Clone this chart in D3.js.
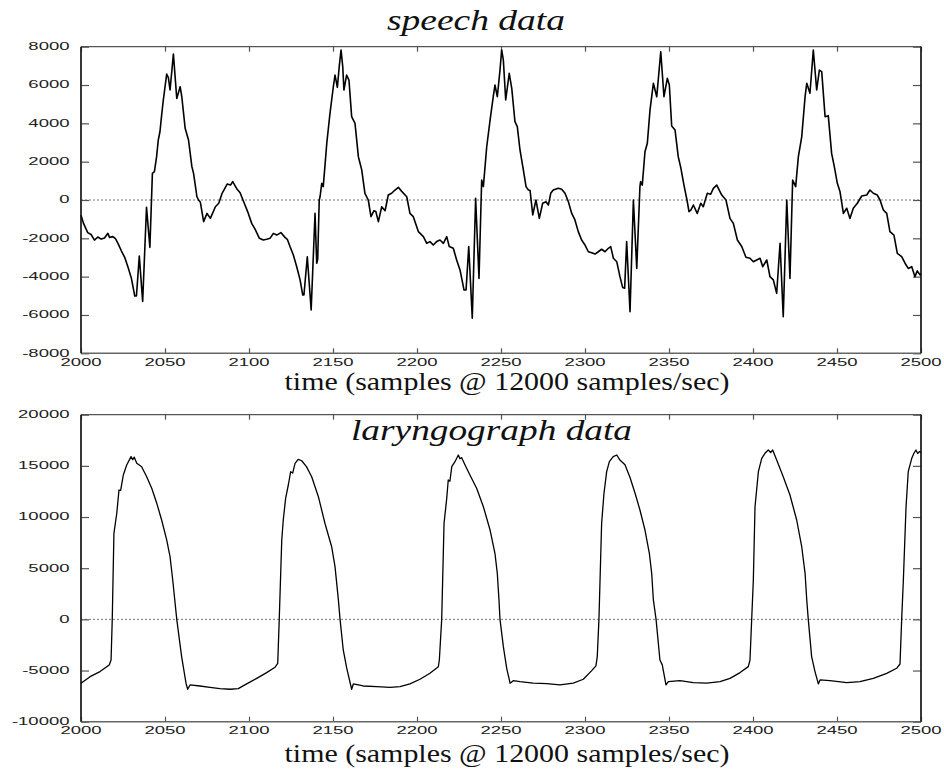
<!DOCTYPE html>
<html>
<head>
<meta charset="utf-8">
<script src="https://d3js.org/d3.v7.min.js"></script>
<style>
    html, body {
        margin: 0;
        padding: 0;
        background: #fff;
    }

    svg {
        display: block;
    }

    .tick-label {
        font: 10px "Liberation Sans", Arial, sans-serif;
        fill: #222;
    }

    .title {
        font-family: "Liberation Serif", "Times New Roman", serif;
        font-style: italic;
        font-size: 30px;
        fill: #111;
    }

    .xlabel {
        font-family: "Liberation Serif", "Times New Roman", serif;
        font-size: 25px;
        fill: #111;
    }

    .trace {
        fill: none;
        stroke: #000;
        stroke-linejoin: round;
    }
</style>
</head>
<body>
<svg width="944" height="769"></svg>
<script>
    // values: [sample, amplitude]
    var speech = [
        [2000, -800], [2001.5, -1220], [2004, -1700], [2006, -1800], [2008, -2090], [2010, -1930], [2012, -2040],
        [2014, -1980], [2016, -1740], [2017, -1950], [2019, -1910], [2020.5, -2020], [2022, -2260], [2024, -2650],
        [2026, -2990], [2028, -3510], [2030, -4090], [2032, -5010], [2033, -5010], [2034.7, -2920], [2036.7, -5300],
        [2039, -380], [2041, -2470], [2042.5, 1390], [2043.7, 1480], [2045, 2260], [2046, 3130], [2047, 3560],
        [2048, 4430], [2049, 5220], [2051, 6570], [2052, 6390], [2053, 5740], [2055, 7620], [2057, 5300],
        [2059, 5910], [2060, 5390], [2062, 3740], [2064, 3130], [2066, 1740], [2067, 1390], [2069, 170], [2070, 0],
        [2071, -100], [2073, -1130], [2075, -700], [2077, -960], [2080, -350], [2082, -170], [2084, 350],
        [2087, 830], [2089, 780], [2090.3, 960], [2092.7, 590], [2094.7, 380], [2097.6, -260], [2099.6, -700],
        [2101.6, -1220], [2103.6, -1520], [2106.2, -2000], [2108.5, -2090], [2110.5, -2050], [2112.5, -2000],
        [2114.5, -1740], [2116.5, -1830], [2119, -1700], [2121.4, -1950], [2122.8, -2050], [2124.4, -2430],
        [2126.4, -2870], [2128.4, -3480], [2130.4, -4170], [2132, -4960], [2132.7, -4960], [2134.7, -2960],
        [2137, -5740], [2139.3, -700], [2140.3, -3300], [2140.9, -3100], [2141.8, 0], [2142.3, 170], [2143.3, 870],
        [2144.2, 700], [2146.3, 2960], [2148.2, 4520], [2150.2, 5910], [2151.2, 6520], [2152.6, 5880],
        [2153.7, 6960], [2154.8, 7830], [2155.8, 6960], [2156.5, 5740], [2158.1, 6520], [2159.5, 6260],
        [2161.1, 4350], [2163.1, 4000], [2165.1, 2260], [2167.1, 1570], [2169, 350], [2171, 0], [2172.6, -870],
        [2174.4, -560], [2175.5, -600], [2177, -1130], [2179, -350], [2181, -560], [2182.9, 260], [2184.9, 350],
        [2186.9, 520], [2188.9, 660], [2190.9, 450], [2193.9, 170], [2195.8, -700], [2197.8, -870],
        [2200.8, -1650], [2203.8, -1910], [2205.8, -2260], [2207.7, -2170], [2209.7, -2350], [2211.7, -2170],
        [2213.7, -2090], [2215.7, -2260], [2217.7, -1910], [2219.2, -2430], [2221.6, -2520], [2223.6, -3130],
        [2225.6, -3650], [2228, -4700], [2229.2, -4700], [2230.8, -2430], [2232.9, -6170], [2234.9, 90],
        [2236.9, -4090], [2238.5, 1040], [2239.5, 700], [2241.5, 2780], [2243.5, 4170], [2245.4, 5390],
        [2246.4, 6000], [2247.8, 5390], [2249.4, 6780], [2250.4, 7830], [2251.4, 7300], [2252.8, 5220],
        [2254.9, 6610], [2256.4, 5830], [2258.3, 4090], [2259.7, 3830], [2261.3, 2610], [2263.3, 1570],
        [2264.9, 700], [2266.3, 520], [2267.3, 500], [2268.9, -780], [2270.8, 0], [2272.8, -960], [2274.8, -170],
        [2276.8, -90], [2278.2, -260], [2279.6, 350], [2281.1, 520], [2284.1, 610], [2286.1, 560], [2288.1, 350],
        [2290.1, -90], [2292.1, -700], [2294, -1040], [2296, -1650], [2298, -2090], [2300, -2350], [2302, -2700],
        [2304, -2750], [2306, -2820], [2307.9, -2700], [2309.9, -2570], [2311.9, -2700], [2313.9, -2520],
        [2315.3, -2430], [2316.9, -3040], [2318.9, -3220], [2320.8, -4000], [2322.4, -4560], [2323.6, -4600],
        [2324.8, -2170], [2326.8, -5830], [2328.8, 0], [2330.8, -3570], [2332.7, 700], [2333.1, 960],
        [2334.1, 780], [2335.7, 2520], [2337.1, 2960], [2338.7, 4700], [2340.7, 6090], [2342.7, 5390],
        [2345.1, 7740], [2347, 5390], [2349, 6350], [2350.2, 6000], [2351.6, 3860], [2353.6, 3650],
        [2355.5, 2260], [2357.1, 1650], [2358.9, 780], [2359.5, 520], [2360.7, 0], [2361.9, -610],
        [2363.1, -520], [2364.5, -260], [2366.8, -700], [2368.9, -170], [2370.4, -350], [2372.8, 350],
        [2374.8, 300], [2376.4, 610], [2378.4, 780], [2381.4, 260], [2383.9, 0], [2386.3, -960], [2388.3, -1220],
        [2390.7, -2090], [2393.3, -2430], [2395.8, -2990], [2398.2, -3040], [2400.2, -3220], [2402.2, -3130],
        [2404.2, -3040], [2405.8, -3480], [2408.2, -3130], [2410.1, -4000], [2412.1, -4170], [2414.1, -4870],
        [2416.1, -2260], [2418, -6090], [2420.1, 0], [2422, -4090], [2423.6, 1040], [2425.4, 700], [2427, 2260],
        [2429, 3300], [2431, 5390], [2432, 6090], [2433.9, 5570], [2435.9, 7830], [2437.9, 5740], [2439.5, 6780],
        [2440.9, 6700], [2442.9, 4350], [2444.8, 4400], [2446.8, 2430], [2448.4, 1740], [2450.2, 870],
        [2451.8, 430], [2453.8, -700], [2455.8, -430], [2457.7, -960], [2459.7, -430], [2462.1, -170],
        [2464.7, 210], [2467.7, 260], [2469.6, 520], [2471.6, 350], [2474, 260], [2475.6, 0], [2477.6, -520],
        [2479.6, -700], [2481.5, -1650], [2483.9, -1830], [2485.9, -2780], [2488.5, -2960], [2490.5, -3300],
        [2492.4, -3570], [2494.5, -3480], [2496.4, -4000], [2497.8, -3700], [2499.4, -3910], [2500, -3850]
    ];

    var laryngograph = [
        [2000, -6250], [2005.4, -5600], [2011.3, -5100], [2016.8, -4450], [2017.9, -3970], [2018.6, 0],
        [2019.6, 8410], [2021.3, 10370], [2022.6, 12640], [2023.6, 12600], [2025.2, 14110], [2027.2, 15090],
        [2029.8, 15900], [2030.8, 15600], [2031.7, 15850], [2033.2, 15250], [2036.1, 14920], [2039.1, 13940],
        [2042.1, 12810], [2045.1, 11340], [2048, 9710], [2051, 7760], [2053, 6130], [2054.6, 3850],
        [2057, 0], [2059.9, -3640], [2062.5, -6240], [2063.5, -6830], [2064.9, -6410], [2070.8, -6510],
        [2076.8, -6640], [2082.7, -6770], [2088.7, -6830], [2093.6, -6770], [2098.6, -6310], [2104.6, -5760],
        [2110.5, -5200], [2115.5, -4680], [2117.1, -4290], [2118, 0], [2119.5, 7760], [2120.4, 9710],
        [2121.8, 11830], [2123.4, 13130], [2124.8, 14430], [2126, 14300], [2127.4, 15250], [2129.3, 15640],
        [2131.4, 15500], [2134.3, 14900], [2137.3, 13940], [2141.3, 11990], [2145.2, 9390], [2149.2, 7100],
        [2151.2, 5150], [2153.2, 1900], [2154.2, 0], [2156.1, -2990], [2158.2, -4780], [2161.1, -6830],
        [2162.1, -6310], [2168, -6510], [2176, -6580], [2183.9, -6640], [2189.9, -6580], [2195.8, -6310],
        [2201.8, -5850], [2207.7, -5270], [2212.7, -4620], [2213.3, -3970], [2214.7, 0], [2216.1, 9390],
        [2217.7, 11830], [2218.6, 13620], [2219.6, 13500], [2220.7, 14920], [2222.6, 15410], [2224.6, 16060],
        [2225.6, 15700], [2226.6, 15800], [2228.6, 15090], [2231.5, 14110], [2235.5, 12810], [2239.5, 11010],
        [2243.5, 8730], [2246.4, 6460], [2247.8, 4500], [2248.8, 1900], [2249.4, 0], [2251.4, -2670],
        [2253.4, -4780], [2255.4, -6240], [2257.3, -5990], [2261.3, -6090], [2269.2, -6240], [2277.2, -6280],
        [2285.1, -6410], [2293, -6240], [2299, -5850], [2304, -5010], [2306.5, -4550], [2307.3, -3640],
        [2308.3, 0], [2309.9, 9390], [2311.3, 12320], [2312.9, 14430], [2314.5, 15410], [2316.8, 15900],
        [2318.9, 16060], [2320.8, 15570], [2323.8, 15100], [2326.8, 13860], [2329.8, 12320], [2332.7, 10690],
        [2335.7, 8730], [2338.3, 6460], [2339.7, 4500], [2340.7, 1900], [2342.3, 0], [2344.6, -3970],
        [2346, -4450], [2348.2, -6410], [2349.6, -6090], [2356.5, -5990], [2364.5, -6190], [2372.4, -6240],
        [2380.4, -6090], [2386.3, -5760], [2392.3, -5200], [2397.2, -4620], [2398.2, -3970], [2400.2, 3850],
        [2401.2, 11010], [2403.2, 14430], [2405.2, 15740], [2407.1, 16230], [2409.1, 16550], [2410.5, 16300],
        [2411.7, 16550], [2414.1, 15570], [2418, 13940], [2422, 12150], [2426, 9710], [2429, 7100],
        [2431, 4500], [2432, 1900], [2432.9, 0], [2434.9, -3640], [2436.9, -5100], [2438.9, -6310],
        [2439.9, -5920], [2445.8, -5990], [2455.8, -6190], [2463.7, -6090], [2471.6, -5760], [2479.6, -5270],
        [2485.5, -4780], [2487.5, -4360], [2488.5, 0], [2489.5, 3850], [2491.1, 11010], [2492.4, 14430],
        [2494.5, 15740], [2495.8, 16230], [2497, 16550], [2498, 16200], [2499, 16400], [2500, 16300]
    ];

    var xTicks = [2000, 2050, 2100, 2150, 2200, 2250, 2300, 2350, 2400, 2450, 2500];
    var speechTicks = [-8000, -6000, -4000, -2000, 0, 2000, 4000, 6000, 8000];
    var larynTicks = [-10000, -5000, 0, 5000, 10000, 15000, 20000];

    var xLabel = "time (samples @ 12000 samples/sec)";

    var svg = d3.select("svg");
    var left = 81, right = 921;
    var stretch = 1.85; // tick digits are drawn wide in the original

    var x = d3.scaleLinear().domain([2000, 2500]).range([left, right]);

    function drawPanel (cfg) {
        var y = d3.scaleLinear().domain(cfg.domain).range([cfg.bottom, cfg.top]);
        var g = svg.append("g");

        // zero line
        g.append("line")
            .attr("x1", left).attr("x2", right)
            .attr("y1", y(0)).attr("y2", y(0))
            .attr("stroke", "#777")
            .attr("stroke-width", 1)
            .attr("stroke-dasharray", "2,2");

        // inward ticks on all four sides
        g.append("g").attr("transform", "translate(0," + cfg.bottom + ")")
            .call(d3.axisBottom(x).tickValues(xTicks).tickSize(-5).tickSizeOuter(0).tickFormat(""));
        g.append("g").attr("transform", "translate(0," + cfg.top + ")")
            .call(d3.axisTop(x).tickValues(xTicks).tickSize(-5).tickSizeOuter(0).tickFormat(""));
        g.append("g").attr("transform", "translate(" + left + ",0)")
            .call(d3.axisLeft(y).tickValues(cfg.ticks).tickSize(-8).tickSizeOuter(0).tickFormat(""));
        g.append("g").attr("transform", "translate(" + right + ",0)")
            .call(d3.axisRight(y).tickValues(cfg.ticks).tickSize(-8).tickSizeOuter(0).tickFormat(""));
        g.selectAll(".domain").remove();
        g.selectAll(".tick line").attr("stroke", "#555").attr("stroke-width", 1.2);

        // frame
        g.append("line").attr("x1", left).attr("x2", right).attr("y1", cfg.top).attr("y2", cfg.top)
            .attr("stroke", "#555").attr("stroke-width", 1.3);
        g.append("line").attr("x1", left).attr("x2", right).attr("y1", cfg.bottom).attr("y2", cfg.bottom)
            .attr("stroke", "#666").attr("stroke-width", 1.6);
        g.append("line").attr("x1", left).attr("x2", left).attr("y1", cfg.top).attr("y2", cfg.bottom)
            .attr("stroke", "#222").attr("stroke-width", 1.8);
        g.append("line").attr("x1", right).attr("x2", right).attr("y1", cfg.top).attr("y2", cfg.bottom)
            .attr("stroke", "#222").attr("stroke-width", 1.8);

        // y tick labels
        g.selectAll("text.ylab")
            .data(cfg.ticks)
            .enter().append("text")
            .attr("class", "tick-label ylab")
            .attr("text-anchor", "end")
            .attr("transform", function (d) {
                return "translate(" + (left - 11.5) + "," + (y(d) + 3.4) + ") scale(" + stretch + ",1)";
            })
            .text(function (d) { return d; });

        // x tick labels
        g.selectAll("text.xlab")
            .data(xTicks)
            .enter().append("text")
            .attr("class", "tick-label xlab")
            .attr("text-anchor", "middle")
            .attr("transform", function (d) {
                return "translate(" + x(d) + "," + (cfg.bottom + 12.5) + ") scale(" + stretch + ",1)";
            })
            .text(function (d) { return d; });

        // the trace
        var line = d3.line()
            .x(function (d) { return x(d[0]); })
            .y(function (d) { return y(d[1]); });

        g.append("path")
            .datum(cfg.data)
            .attr("class", "trace")
            .attr("stroke-width", cfg.lineWidth)
            .attr("d", line);

        // title and axis label
        g.append("text")
            .attr("class", "title")
            .attr("text-anchor", "middle")
            .attr("x", cfg.titleX).attr("y", cfg.titleY)
            .attr("textLength", cfg.titleW)
            .attr("lengthAdjust", "spacingAndGlyphs")
            .text(cfg.title);

        g.append("text")
            .attr("class", "xlabel")
            .attr("text-anchor", "middle")
            .attr("x", 507).attr("y", cfg.labelY)
            .attr("textLength", 445)
            .attr("lengthAdjust", "spacingAndGlyphs")
            .text(xLabel);
    }

    drawPanel({
        data: speech,
        domain: [-8000, 8000],
        ticks: speechTicks,
        top: 46.7,
        bottom: 353.3,
        lineWidth: 1.6,
        title: "speech data",
        titleX: 476, titleY: 30, titleW: 178,
        labelY: 390
    });

    drawPanel({
        data: laryngograph,
        domain: [-10000, 20000],
        ticks: larynTicks,
        top: 414.7,
        bottom: 721.7,
        lineWidth: 1.3,
        title: "laryngograph data",
        titleX: 491.5, titleY: 440, titleW: 281,
        labelY: 762
    });
</script>
</body>
</html>
